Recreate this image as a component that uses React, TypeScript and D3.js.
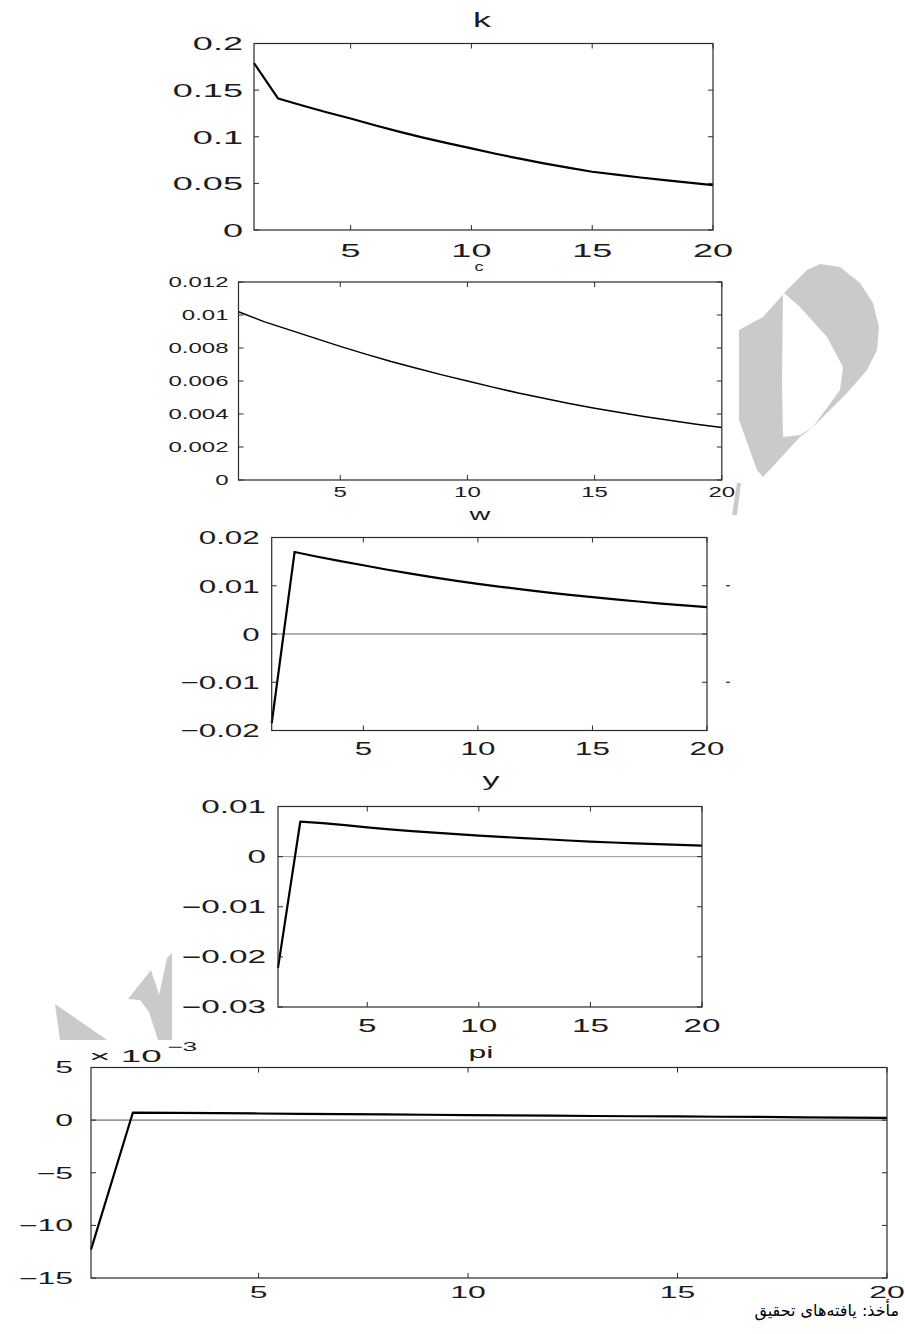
import React from "react";
import * as d3 from "d3";

// Impulse responses over 20 periods
const periods = [1, 2, 3, 4, 5, 6, 7, 8, 9, 10, 11, 12, 13, 14, 15, 16, 17, 18, 19, 20];
const xTicks = [5, 10, 15, 20];

const kValues = [0.179, 0.141, 0.1335, 0.1263, 0.1196, 0.1123, 0.1055, 0.0991, 0.0931, 0.0875,
  0.0818, 0.0765, 0.0715, 0.0669, 0.0625, 0.0593, 0.0563, 0.0535, 0.0508, 0.0482];
const cValues = [0.0102, 0.0096, 0.0091, 0.0086, 0.0081, 0.00763, 0.00718, 0.00677, 0.00637, 0.006,
  0.00563, 0.00527, 0.00495, 0.00464, 0.00435, 0.00409, 0.00384, 0.0036, 0.00338, 0.00318];
const wValues = [-0.0185, 0.017, 0.01602, 0.01511, 0.01424, 0.01337, 0.01256, 0.01179, 0.01108, 0.0104,
  0.00978, 0.00919, 0.00864, 0.00812, 0.00764, 0.00717, 0.00673, 0.00631, 0.00592, 0.00556];
const yValues = [-0.0222, 0.007, 0.0067, 0.0063, 0.00585, 0.00545, 0.00508, 0.00477, 0.00447, 0.00419,
  0.00394, 0.0037, 0.00347, 0.00322, 0.003, 0.00282, 0.00265, 0.00249, 0.00234, 0.0022];
const piValues = [-0.0123, 0.00072, 0.00069, 0.00066, 0.00063, 0.0006, 0.00057, 0.00054, 0.00051, 0.00048,
  0.00045, 0.00042, 0.00039, 0.00037, 0.00035, 0.00032, 0.0003, 0.00027, 0.00024, 0.00021];

const kTicks = [0, 0.05, 0.1, 0.15, 0.2];
const kTickLabels = ["0", "0.05", "0.1", "0.15", "0.2"];
const cTicks = [0, 0.002, 0.004, 0.006, 0.008, 0.01, 0.012];
const cTickLabels = ["0", "0.002", "0.004", "0.006", "0.008", "0.01", "0.012"];
const wTicks = [-0.02, -0.01, 0, 0.01, 0.02];
const wTickLabels = ["\u22120.02", "\u22120.01", "0", "0.01", "0.02"];
const yTicks = [-0.03, -0.02, -0.01, 0, 0.01];
const yTickLabels = ["\u22120.03", "\u22120.02", "\u22120.01", "0", "0.01"];
const piTicks = [-0.015, -0.01, -0.005, 0, 0.005];
const piTickLabels = ["\u221215", "\u221210", "\u22125", "0", "5"];

const FONT = "'Liberation Sans', Arial, Helvetica, sans-serif";
const INK = "#1c1c1c";

type PanelSpec = {
  title: string;
  values: number[];
  yDomain: [number, number];
  ticks: number[];
  tickLabels: string[];
  box: { left: number; right: number; top: number; bottom: number };
  bg: { x: number; y: number; w: number; h: number };
  font: number;
  sx: number;
  labelGap: number;
  xLabelY: number;
  titleX: number;
  titleY: number;
  titleFont: number;
  titleSx: number;
  lineWidth: number;
  zeroLine?: number;
  clipRight?: number;
  outerDashes?: boolean;
};

function Txt(props: { x: number; y: number; sx: number; size: number; anchor: string; dy?: string; children: React.ReactNode }) {
  const { x, y, sx, size, anchor, dy, children } = props;
  return (
    <text
      transform={`translate(${x},${y}) scale(${sx},1)`}
      textAnchor={anchor}
      dy={dy ?? "0.36em"}
      fontSize={size}
      fontFamily={FONT}
      fill={INK}
    >
      {children}
    </text>
  );
}

function Panel({ spec, id }: { spec: PanelSpec; id: string }) {
  const { box } = spec;
  const x = d3.scaleLinear().domain([1, 20]).range([box.left, box.right]);
  const y = d3.scaleLinear().domain(spec.yDomain).range([box.bottom, box.top]);
  const line = d3
    .line<number>()
    .x((_, i) => x(periods[i]))
    .y((v) => y(v));
  const tickLen = 5;
  return (
    <g clipPath={spec.clipRight ? `url(#clip-${id})` : undefined}>
      {spec.clipRight ? (
        <defs>
          <clipPath id={`clip-${id}`}>
            <rect x={0} y={spec.bg.y} width={spec.clipRight} height={spec.bg.h} />
          </clipPath>
        </defs>
      ) : null}
      <rect x={spec.bg.x} y={spec.bg.y} width={spec.bg.w} height={spec.bg.h} fill="#fff" />
      {spec.zeroLine ? (
        <line x1={box.left} x2={box.right} y1={y(0)} y2={y(0)} stroke="#9a9a9a" strokeWidth={spec.zeroLine} />
      ) : null}
      <path d={line(spec.values) ?? ""} fill="none" stroke="#000" strokeWidth={spec.lineWidth} strokeLinejoin="round" />
      <rect
        x={box.left}
        y={box.top}
        width={box.right - box.left}
        height={box.bottom - box.top}
        fill="none"
        stroke="#2a2a2a"
        strokeWidth={1.2}
      />
      {spec.ticks.map((t, i) => (
        <g key={`yt${i}`}>
          <line x1={box.left} x2={box.left + tickLen} y1={y(t)} y2={y(t)} stroke="#2a2a2a" strokeWidth={1} />
          <line x1={box.right} x2={box.right - tickLen} y1={y(t)} y2={y(t)} stroke="#2a2a2a" strokeWidth={1} />
          {spec.outerDashes && t !== 0 && Math.abs(t) < 0.015 ? (
            <line x1={box.right + 19} x2={box.right + 23} y1={y(t)} y2={y(t)} stroke="#2a2a2a" strokeWidth={1.2} />
          ) : null}
          <Txt x={box.left - spec.labelGap} y={y(t)} sx={spec.sx} size={spec.font} anchor="end">
            {spec.tickLabels[i]}
          </Txt>
        </g>
      ))}
      {xTicks.map((t) => (
        <g key={`xt${t}`}>
          <line x1={x(t)} x2={x(t)} y1={box.bottom} y2={box.bottom - tickLen} stroke="#2a2a2a" strokeWidth={1} />
          <line x1={x(t)} x2={x(t)} y1={box.top} y2={box.top + tickLen} stroke="#2a2a2a" strokeWidth={1} />
          <Txt x={x(t)} y={spec.xLabelY} sx={spec.sx} size={spec.font} anchor="middle">
            {String(t)}
          </Txt>
        </g>
      ))}
      <Txt x={spec.titleX} y={spec.titleY} sx={spec.titleSx} size={spec.titleFont} anchor="middle" dy="0">
        {spec.title}
      </Txt>
    </g>
  );
}

const panels: PanelSpec[] = [
  {
    title: "k", values: kValues, yDomain: [0, 0.2], ticks: kTicks, tickLabels: kTickLabels,
    box: { left: 254, right: 713, top: 43.5, bottom: 230 },
    bg: { x: 178, y: 0, w: 560, h: 262 },
    font: 19, sx: 1.9, labelGap: 11, xLabelY: 250,
    titleX: 482, titleY: 27, titleFont: 20, titleSx: 1.8, lineWidth: 2.2,
  },
  {
    title: "c", values: cValues, yDomain: [0, 0.012], ticks: cTicks, tickLabels: cTickLabels,
    box: { left: 238.5, right: 721.8, top: 282, bottom: 480 },
    bg: { x: 160, y: 262, w: 579, h: 220 },
    font: 15, sx: 1.6, labelGap: 10, xLabelY: 492,
    titleX: 479, titleY: 271, titleFont: 12, titleSx: 1.5, lineWidth: 1.5,
  },
  {
    title: "w", values: wValues, yDomain: [-0.02, 0.02], ticks: wTicks, tickLabels: wTickLabels,
    box: { left: 271.7, right: 707, top: 537.5, bottom: 730.5 },
    bg: { x: 175, y: 505, w: 556, h: 255 },
    font: 19, sx: 1.65, labelGap: 12, xLabelY: 748,
    titleX: 480, titleY: 520, titleFont: 16, titleSx: 1.8, lineWidth: 2.2,
    zeroLine: 1.4, clipRight: 731, outerDashes: true,
  },
  {
    title: "y", values: yValues, yDomain: [-0.03, 0.01], ticks: yTicks, tickLabels: yTickLabels,
    box: { left: 278, right: 702, top: 806.5, bottom: 1007 },
    bg: { x: 172, y: 760, w: 560, h: 280 },
    font: 18, sx: 1.85, labelGap: 12, xLabelY: 1026,
    titleX: 491, titleY: 786, titleFont: 19, titleSx: 1.8, lineWidth: 2.2,
    zeroLine: 1,
  },
  {
    title: "pi", values: piValues, yDomain: [-0.015, 0.005], ticks: piTicks, tickLabels: piTickLabels,
    box: { left: 91, right: 887, top: 1067.5, bottom: 1278 },
    bg: { x: 0, y: 1040, w: 905, h: 258 },
    font: 16, sx: 2.0, labelGap: 18, xLabelY: 1292,
    titleX: 481, titleY: 1058, titleFont: 16, titleSx: 2.0, lineWidth: 2.2,
    zeroLine: 1.6,
  },
];

// Faint background mark shapes
const markShapes: [number, number][][] = [
  [[739, 330], [763, 317], [787, 290], [807, 270], [820, 264], [840, 267], [860, 283], [873, 303], [879, 327],
   [877, 350], [867, 370], [847, 393], [813, 427], [800, 437], [763, 477], [757, 470], [739, 420]],
  [[55, 1004], [107, 1040], [60, 1040]],
  [[128, 999], [151, 970], [159, 995], [167, 958], [172, 953], [172, 1040], [158, 1040], [149, 1012], [140, 1000]],
];
const markHoles: [number, number][][] = [
  [[783, 292], [800, 307], [827, 337], [843, 367], [840, 390], [813, 427], [800, 435], [783, 437], [782, 383]],
];

export default function App() {
  return (
    <svg
      width={905}
      height={1334}
      viewBox="0 0 905 1334"
      style={{ position: "absolute", left: 0, top: 0, background: "#fff" }}
    >
      <rect x={0} y={0} width={905} height={1334} fill="#fff" />
      {markShapes.map((pts, i) => (
        <polygon key={`m${i}`} points={pts.map((p) => p.join(",")).join(" ")} fill="#cacaca" />
      ))}
      {markHoles.map((pts, i) => (
        <polygon key={`h${i}`} points={pts.map((p) => p.join(",")).join(" ")} fill="#fff" />
      ))}
      {panels.map((p, i) => (
        <Panel key={p.title} spec={p} id={`p${i}`} />
      ))}
      <polygon points="737,483 741,483 737,515 732,515" fill="#cacaca" />
      {/* pi axis multiplier */}
      <Txt x={89} y={1056} sx={2.3} size={16} anchor="start">
        {"\u00d7 10"}
      </Txt>
      <Txt x={167} y={1047} sx={2.2} size={12} anchor="start">
        {"\u22123"}
      </Txt>
      <text
        x={899}
        y={1316}
        textAnchor="end"
        fontSize={16}
        fontFamily="'DejaVu Sans', sans-serif"
        fill="#000"
      >
        مأخذ: یافته‌های تحقیق
      </text>
    </svg>
  );
}
